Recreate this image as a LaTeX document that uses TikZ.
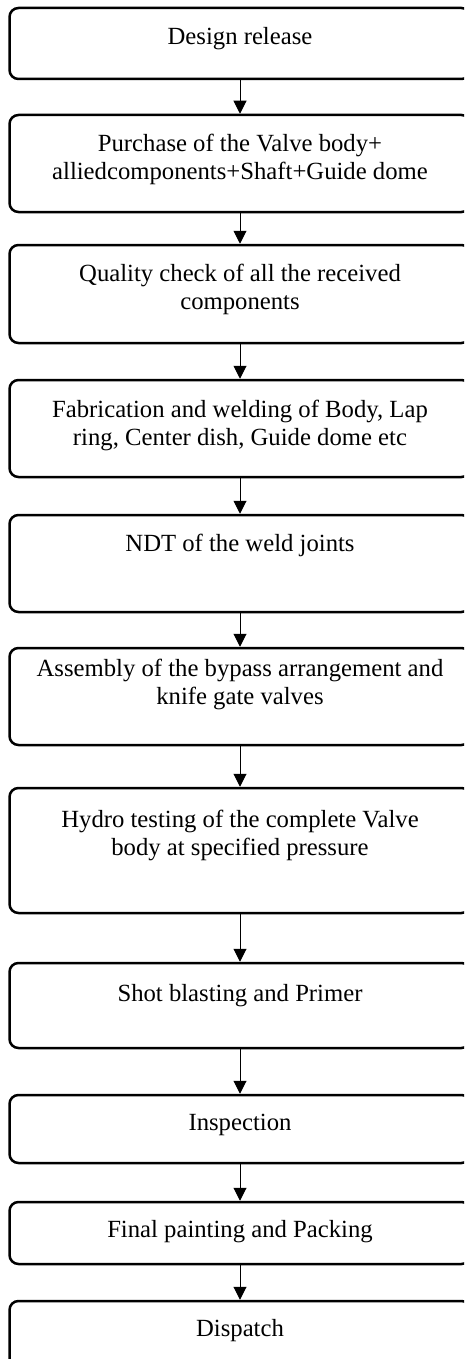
\documentclass[tikz,border=0pt]{standalone}
\usepackage{fontspec}
\setmainfont{Liberation Serif}
\usetikzlibrary{arrows.meta}
\begin{document}
\begin{tikzpicture}[x=1pt,y=1pt,
  box/.style={draw, line width=2.5pt, rounded corners=9pt, minimum width=461pt, inner sep=0pt},
  lbl/.style={align=center, font=\fontsize{24.7}{28.3}\selectfont, anchor=north, inner sep=0pt},
  arr/.style={line width=1pt, -{Triangle[width=13pt,length=13pt]}}]
\useasboundingbox (0,0) rectangle (464,-1359);
\fill[white] (0,0) rectangle (464,-1359);
\clip (0,0) rectangle (464,-1359);
% boxes: center y = -(top+bottom)/2, height = bottom-top
\node[box, minimum height=71pt]  (b1)  at (240,-43.5)   {};
\node[box, minimum height=97pt]  (b2)  at (240,-163.5)  {};
\node[box, minimum height=98pt]  (b3)  at (240,-294)    {};
\node[box, minimum height=97pt]  (b4)  at (240,-428.5)  {};
\node[box, minimum height=97pt]  (b5)  at (240,-563.5)  {};
\node[box, minimum height=97pt]  (b6)  at (240,-696.5)  {};
\node[box, minimum height=125pt] (b7)  at (240,-850.5)  {};
\node[box, minimum height=85pt]  (b8)  at (240,-1005.5) {};
\node[box, minimum height=68pt]  (b9)  at (240,-1129)   {};
\node[box, minimum height=62pt]  (b10) at (240,-1233)   {};
\node[box, minimum height=70pt]  (b11) at (240,-1336)   {};
% labels
\node[lbl] (t1)  at ([yshift=-20pt]b1.north)  {Design release};
\node[lbl] (t2)  at ([yshift=-20pt]b2.north)  {Purchase of the Valve body+\\alliedcomponents+Shaft+Guide dome};
\node[lbl] (t3)  at ([yshift=-20pt]b3.north)  {Quality check of all the received\\components};
\node[lbl] (t4)  at ([yshift=-21pt]b4.north)  {Fabrication and welding of Body, Lap\\ring, Center dish, Guide dome etc};
\node[lbl] (t5)  at ([yshift=-20pt]b5.north)  {NDT of the weld joints};
\node[lbl] (t6)  at ([yshift=-12pt]b6.north)  {Assembly of the bypass arrangement and\\knife gate valves};
\node[lbl] (t7)  at ([yshift=-23pt]b7.north)  {Hydro testing of the complete Valve\\body at specified pressure};
\node[lbl] (t8)  at ([yshift=-22pt]b8.north)  {Shot blasting and Primer};
\node[lbl] (t9)  at ([yshift=-20pt]b9.north)  {Inspection};
\node[lbl] (t10) at ([yshift=-19pt]b10.north) {Final painting and Packing};
\node[lbl] (t11) at ([yshift=-19pt]b11.north) {Dispatch};
% arrows
\draw[arr] (b1.south) -- (b2.north);
\draw[arr] (b2.south) -- (b3.north);
\draw[arr] (b3.south) -- (b4.north);
\draw[arr] (b4.south) -- (b5.north);
\draw[arr] (b5.south) -- (b6.north);
\draw[arr] (b6.south) -- (b7.north);
\draw[arr] (b7.south) -- (b8.north);
\draw[arr] (b8.south) -- (b9.north);
\draw[arr] (b9.south) -- (b10.north);
\draw[arr] (b10.south) -- (b11.north);
\end{tikzpicture}
\end{document}
